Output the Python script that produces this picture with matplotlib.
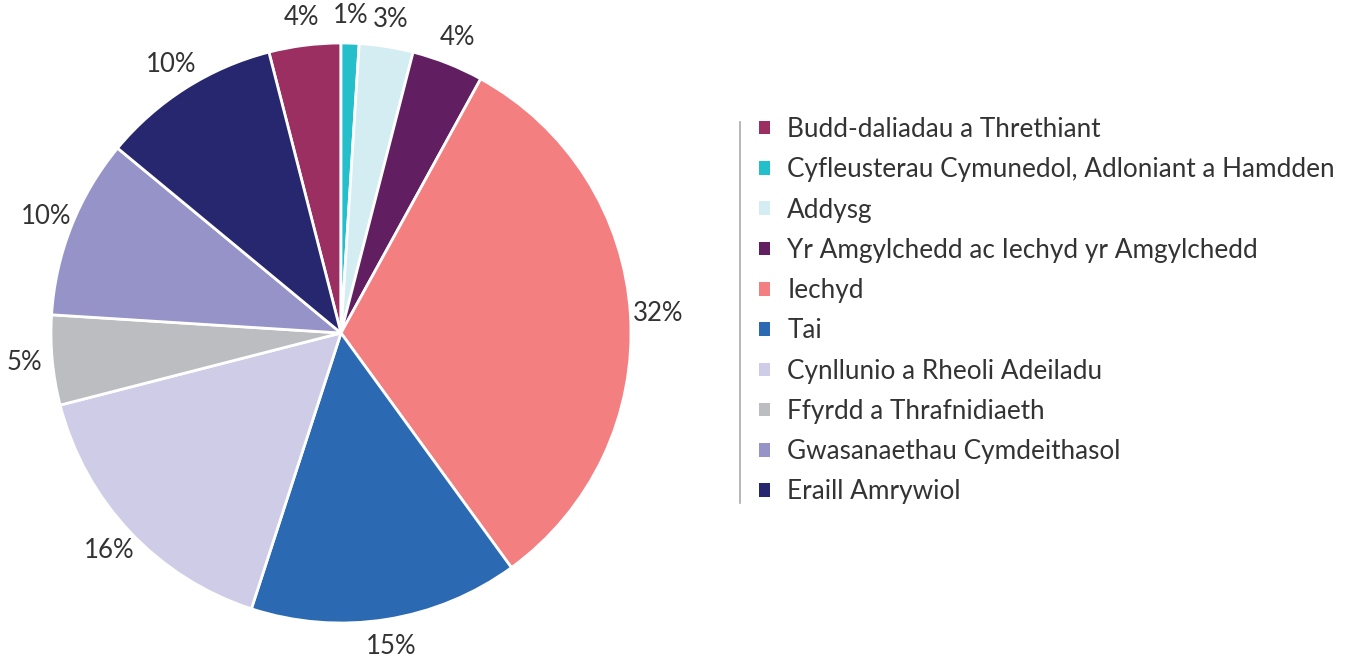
import matplotlib.pyplot as plt
from matplotlib.lines import Line2D

categories = [
    'Budd-daliadau a Threthiant',
    'Cyfleusterau Cymunedol, Adloniant a Hamdden',
    'Addysg',
    'Yr Amgylchedd ac Iechyd yr Amgylchedd',
    'Iechyd',
    'Tai',
    'Cynllunio a Rheoli Adeiladu',
    'Ffyrdd a Thrafnidiaeth',
    'Gwasanaethau Cymdeithasol',
    'Eraill Amrywiol',
]
shares = [4, 1, 3, 4, 32, 15, 16, 5, 10, 10]
colors = ['#9B2F62', '#24BFCB', '#D4EDF3', '#611F62', '#F37F80',
          '#2B69B3', '#CFCCE8', '#BCBDC0', '#9593C8', '#27276F']

plt.rcParams['font.family'] = ['Lato', 'DejaVu Sans']

W, H = 1350, 657
fig = plt.figure(figsize=(W / 100, H / 100), dpi=100)

cx, cy, r = 341, 657 - 333, 290
ax = fig.add_axes([(cx - r) / W, (cy - r) / H, 2 * r / W, 2 * r / H])

start = 90 + shares[0] / sum(shares) * 360
wedges, texts, autotexts = ax.pie(
    shares, colors=colors, startangle=start, counterclock=False,
    autopct=lambda p: f'{p:.0f}%', pctdistance=1.095,
    wedgeprops=dict(edgecolor='white', linewidth=2),
    textprops=dict(fontsize=18.5, color='#333333'))
ax.set_xlim(-1, 1)
ax.set_ylim(-1, 1)
ax.set_aspect('equal')

leg = fig.legend(wedges, categories, loc='upper left',
                 bbox_to_anchor=(759 / W, 1 - 117 / H),
                 frameon=False, fontsize=18.8,
                 handlelength=0.42, handleheight=0.42, handletextpad=0.66,
                 labelspacing=0.585, borderaxespad=0, borderpad=0)
for t in leg.get_texts():
    t.set_color('#333333')
for h in leg.legend_handles:
    h.set_edgecolor('none')

fig.add_artist(Line2D([740 / W, 740 / W], [1 - 122 / H, 1 - 503 / H],
                      color='#AAAAAA', linewidth=1.2))

fig.savefig('out.png', dpi=100)
